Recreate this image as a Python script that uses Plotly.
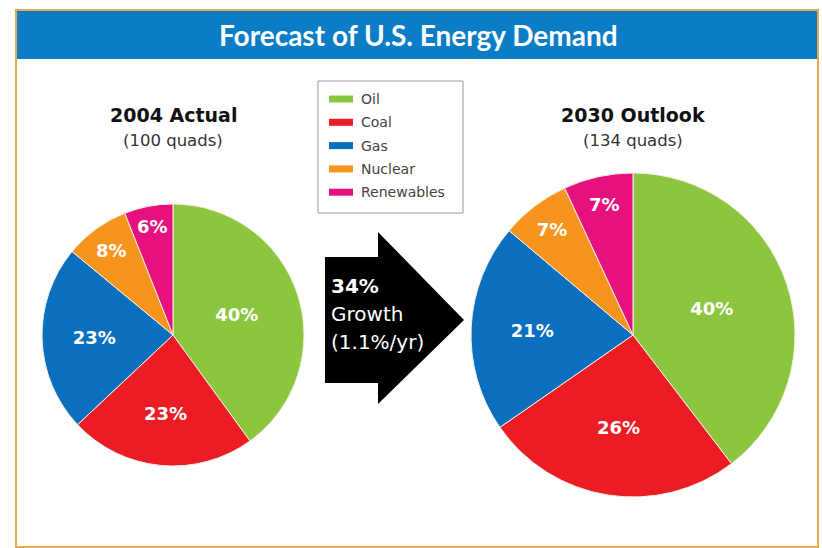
import plotly.graph_objects as go

# ---- data ----
sources = ["Oil", "Coal", "Gas", "Nuclear", "Renewables"]
colors = ["#8cc63f", "#ec1c24", "#0b6fbf", "#f7941d", "#e6117f"]
share_2004 = [40, 23, 23, 8, 6]
share_2030 = [40, 26, 21, 7, 7]
pie_titles = ["2004 Actual", "2030 Outlook"]
pie_subtitles = ["(100 quads)", "(134 quads)"]
chart_title = "Forecast of U.S. Energy Demand"
arrow_lines = ["<b>34%</b>", "Growth", "(1.1%/yr)"]

W, H = 822, 548


def px(x):
    return x / W


def py(y):
    return 1 - y / H


fig = go.Figure()

pie_boxes = [  # (left, right, top, bottom) in pixels
    (42, 304, 204, 466),
    (471, 795, 173, 497),
]
for vals, (l, r, t, b) in zip([share_2004, share_2030], pie_boxes):
    fig.add_trace(go.Pie(
        labels=sources,
        values=vals,
        text=[f"{v}%" for v in vals],
        textinfo="text",
        textposition="inside",
        insidetextorientation="horizontal",
        sort=False,
        direction="clockwise",
        rotation=0,
        marker=dict(colors=colors, line=dict(color="#f4f0e0", width=1)),
        textfont=dict(family="DejaVu Sans", size=18, color="white", weight="bold"),
        domain=dict(x=[px(l), px(r)], y=[py(b), py(t)]),
        showlegend=False,
        hoverinfo="label+text",
    ))

shapes = []
# outer border
shapes.append(dict(type="rect", xref="paper", yref="paper",
                   x0=px(16), x1=px(818), y0=py(547), y1=py(10),
                   line=dict(color="#e9a94f", width=2), fillcolor="rgba(0,0,0,0)"))
# title bar
shapes.append(dict(type="rect", xref="paper", yref="paper",
                   x0=px(17), x1=px(817), y0=py(59), y1=py(11),
                   line=dict(width=0), fillcolor="#0a7dc6", layer="below"))
# arrow
arrow_pts = [(325, 257), (378, 257), (378, 232), (464, 320), (378, 404), (378, 383), (325, 383)]
path = "M " + " L ".join(f"{px(x)},{py(y)}" for x, y in arrow_pts) + " Z"
shapes.append(dict(type="path", xref="paper", yref="paper", path=path,
                   fillcolor="black", line=dict(width=0)))
# legend box
shapes.append(dict(type="rect", xref="paper", yref="paper",
                   x0=px(318), x1=px(463), y0=py(213), y1=py(81),
                   line=dict(color="#9a9a9a", width=1), fillcolor="white"))

annotations = []
legend_y0, legend_dy = 99, 23.3
for i, (name, c) in enumerate(zip(sources, colors)):
    yc = legend_y0 + i * legend_dy
    shapes.append(dict(type="rect", xref="paper", yref="paper",
                       x0=px(329), x1=px(353), y0=py(yc + 3.5), y1=py(yc - 3.5),
                       line=dict(width=0), fillcolor=c))
    annotations.append(dict(x=px(359), y=py(yc), xref="paper", yref="paper",
                            text=name, showarrow=False, xanchor="left", yanchor="middle",
                            font=dict(family="DejaVu Sans", size=14, color="#444444")))

# title
annotations.append(dict(x=px(418), y=py(35), xref="paper", yref="paper",
                        text=chart_title, showarrow=False, xanchor="center", yanchor="middle",
                        font=dict(family="Lato", size=28, color="white", weight="bold")))

# pie titles
for cx, t, s in zip([173, 633], pie_titles, pie_subtitles):
    annotations.append(dict(x=px(cx), y=py(115), xref="paper", yref="paper",
                            text=f"<b>{t}</b>", showarrow=False, xanchor="center", yanchor="middle",
                            font=dict(family="DejaVu Sans", size=19, color="#111111")))
    annotations.append(dict(x=px(cx), y=py(140), xref="paper", yref="paper",
                            text=s, showarrow=False, xanchor="center", yanchor="middle",
                            font=dict(family="DejaVu Sans", size=16.5, color="#333333")))

# arrow text
for i, line in enumerate(arrow_lines):
    annotations.append(dict(x=px(329), y=py(286 + i * 28), xref="paper", yref="paper",
                            text=line, showarrow=False, xanchor="left", yanchor="middle",
                            font=dict(family="DejaVu Sans", size=20, color="white")))

fig.update_layout(
    width=W, height=H,
    margin=dict(l=0, r=0, t=0, b=0),
    paper_bgcolor="white",
    plot_bgcolor="white",
    shapes=shapes,
    annotations=annotations,
    uniformtext=dict(minsize=18, mode="show"),
)

fig.write_html("out.html", config={"displayModeBar": False},
               post_script="document.body.style.margin='0px';document.body.style.overflow='hidden';")
